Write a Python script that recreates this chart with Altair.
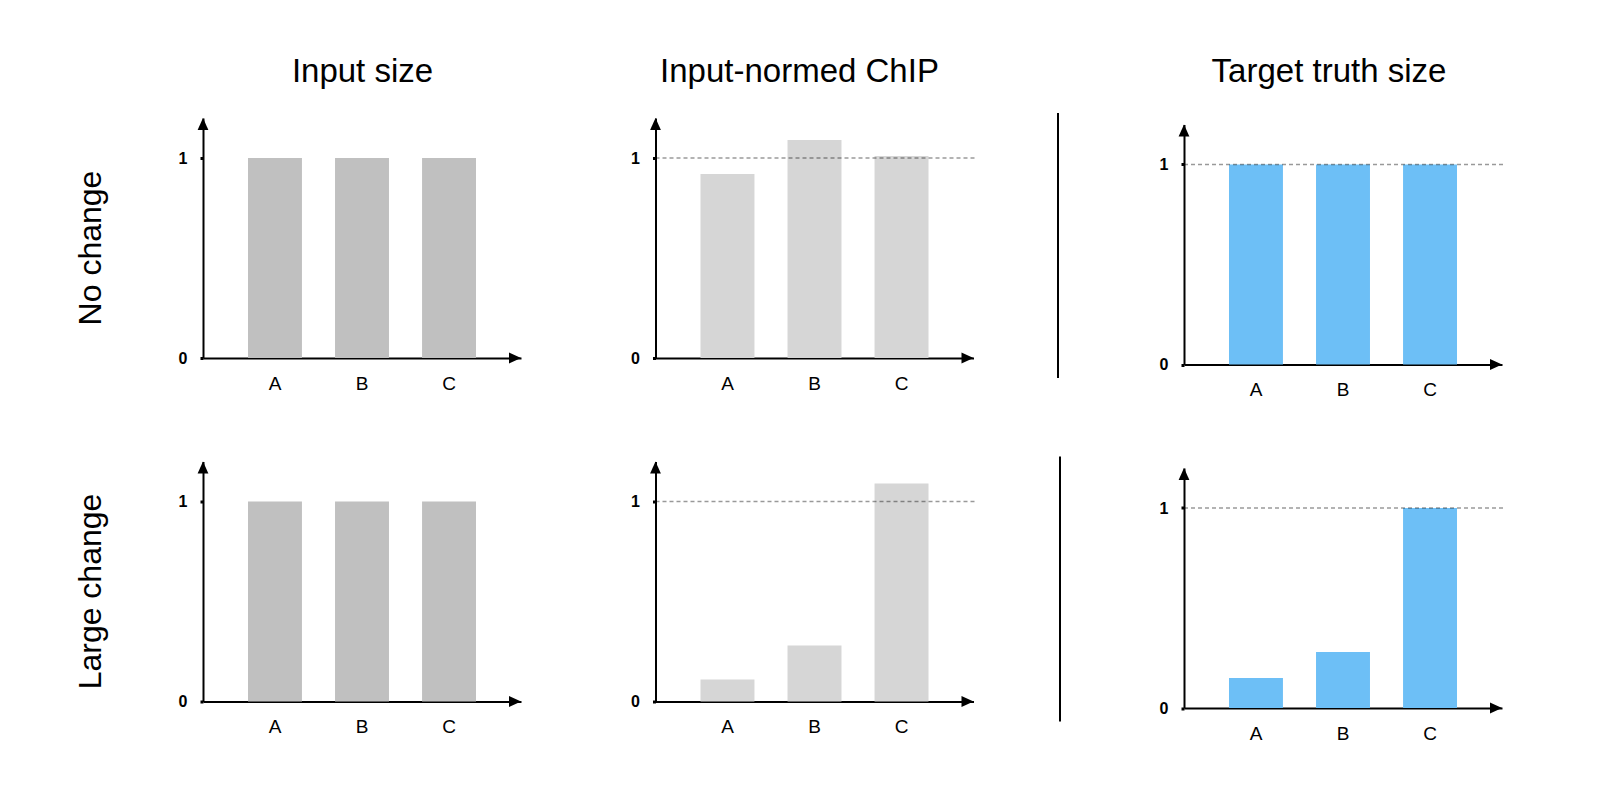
import altair as alt
import pandas as pd

# ---- data ----
categories = ["A", "B", "C"]
col_titles = ["Input size", "Input-normed ChIP", "Target truth size"]
row_labels = ["No change", "Large change"]

input_no_change = [1.0, 1.0, 1.0]
chip_no_change = [0.92, 1.09, 1.01]
truth_no_change = [1.0, 1.0, 1.0]

input_large_change = [1.0, 1.0, 1.0]
chip_large_change = [0.11, 0.28, 1.09]
truth_large_change = [0.15, 0.28, 1.0]

y_tick_values = [0, 1]
reference_level = [1]

# ---- style ----
FONT = "Liberation Sans"
BAR_COLORS = ["#C0C0C0", "#D6D6D6", "#6DBFF6"]
AXIS_W = 318
UP = "M0,-1L0.9,1L-0.9,1Z"
RIGHT = "M1,0L-1,-0.9L-1,0.9Z"
TITLE_X = [159.5, 144, 145]
NO_FRAME = alt.ViewBackground(stroke="transparent", strokeWidth=0)

one = pd.DataFrame({"k": [0]})


def panel(values, col, row):
    shift = 6.5 if col == 2 else 0.0
    h = 240 + shift
    w = 394 if col == 1 else AXIS_W
    df = pd.DataFrame({"cat": categories, "val": values})
    x_enc = alt.X(
        "cat:N",
        sort=categories,
        scale=alt.Scale(range=[0, AXIS_W], paddingInner=0.38, paddingOuter=0.517),
        axis=alt.Axis(
            title=None, labelAngle=0, labelFont=FONT, labelFontSize=19,
            labelColor="black", ticks=False, tickSize=0, labelPadding=16,
            domainColor="black", domainWidth=2, grid=False,
        ),
    )
    y_enc = alt.Y(
        "val:Q",
        scale=alt.Scale(domain=[0, 1.2], range=[h, shift], nice=False),
        axis=alt.Axis(
            title=None, values=y_tick_values, format="d", labelFont=FONT,
            labelFontSize=16, labelFontWeight="bold", labelColor="black",
            tickColor="black", tickSize=3, tickWidth=3, labelPadding=13,
            domainColor="black", domainWidth=2, grid=False,
        ),
    )
    layers = [alt.Chart(df).mark_bar(color=BAR_COLORS[col]).encode(x=x_enc, y=y_enc)]
    if col > 0:
        layers.append(
            alt.Chart(pd.DataFrame({"val": reference_level}))
            .mark_rule(color="black", opacity=0.4, strokeWidth=1.5, strokeDash=[4, 3])
            .encode(y="val:Q", x=alt.value(0), x2=alt.value(320))
        )
    layers.append(
        alt.Chart(one).mark_point(shape=UP, size=144, filled=True, color="black",
                                  opacity=1, strokeWidth=0)
        .encode(x=alt.value(0), y=alt.value(shift + 6))
    )
    layers.append(
        alt.Chart(one).mark_point(shape=RIGHT, size=144, filled=True, color="black",
                                  opacity=1, strokeWidth=0)
        .encode(x=alt.value(AXIS_W - 6), y=alt.value(h))
    )
    if col == 1:
        sx = 402.5 if row == 0 else 404.5
        layers.append(
            alt.Chart(one).mark_rule(color="black", strokeWidth=2)
            .encode(x=alt.value(sx), y=alt.value(-5), y2=alt.value(260))
        )
    if row == 0:
        layers.append(
            alt.Chart(pd.DataFrame({"t": [col_titles[col]]}))
            .mark_text(font=FONT, fontSize=33, baseline="alphabetic", align="center",
                       color="black")
            .encode(text="t:N", x=alt.value(TITLE_X[col]), y=alt.value(-36))
        )
    if col == 0:
        layers.append(
            alt.Chart(pd.DataFrame({"t": [row_labels[row]]}))
            .mark_text(font=FONT, fontSize=32, baseline="alphabetic", align="center",
                       angle=270, color="black")
            .encode(text="t:N", x=alt.value(-102), y=alt.value(130))
        )
    return alt.layer(*layers).properties(width=w, height=h, view=NO_FRAME)


rows = [
    [input_no_change, chip_no_change, truth_no_change],
    [input_large_change, chip_large_change, truth_large_change],
]
panels = [panel(v, c, r) for r, row_vals in enumerate(rows) for c, v in enumerate(row_vals)]

chart = (
    alt.concat(*panels, columns=3, spacing={"row": 96.5, "column": 134.5}, bounds="flush")
    .properties(padding={"left": 75, "top": 56, "right": 5, "bottom": 5})
    .configure_view(strokeWidth=0, stroke="transparent")
    .configure(background="white")
)

chart.save("out.html", embed_options={"renderer": "svg", "actions": False})
